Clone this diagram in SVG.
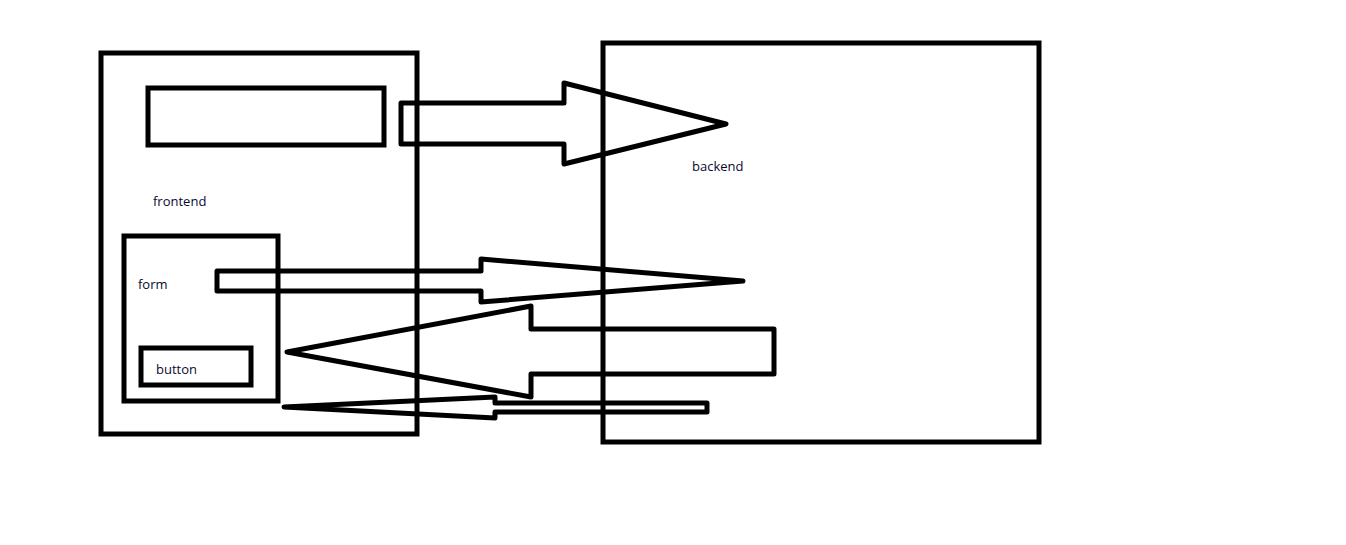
<svg xmlns="http://www.w3.org/2000/svg" width="1346" height="545" viewBox="0 0 1346 545">
<style>
.box{fill:none;stroke:#000;stroke-width:5}
.arr{fill:none;stroke:#000;stroke-width:5;stroke-linejoin:round}
.lbl{font-family:"Open Sans","Noto Sans",sans-serif;font-size:13px;fill:#0a0a30}
</style>
<rect width="1346" height="545" fill="#fff"/>
<g id="frontend">
<rect class="box" x="101" y="53" width="316" height="381"/>
<text class="lbl" x="153" y="206">frontend</text>
</g>
<g id="topbox">
<rect class="box" x="148" y="88" width="236" height="57"/>
</g>
<g id="form">
<rect class="box" x="124" y="236" width="154" height="165"/>
<text class="lbl" x="138" y="289">form</text>
</g>
<g id="button">
<rect class="box" x="141" y="348" width="110" height="37"/>
<text class="lbl" x="156" y="374">button</text>
</g>
<g id="backend">
<rect class="box" x="603" y="43" width="436" height="399"/>
<text class="lbl" x="692" y="171">backend</text>
</g>
<g id="connectors">
<polygon class="arr" points="401,103 564,103 564,83 726,124 564,164 564,144 401,144"/>
<polygon class="arr" points="217,271 481,271 481,259 743,281 481,302 481,291 217,291"/>
<polygon class="arr" points="774,329 531,329 531,306 287,352 531,397 531,374 774,374"/>
<polygon class="arr" points="707,403 495,403 495,397 284,407 495,418 495,412 707,412"/>
</g>
</svg>
